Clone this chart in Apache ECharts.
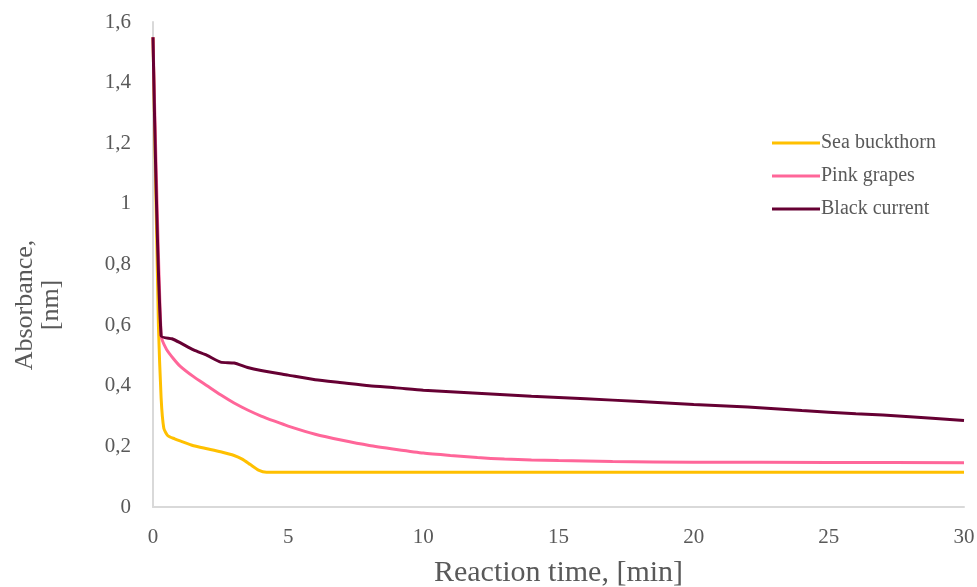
<!DOCTYPE html>
<html>
<head>
<meta charset="utf-8">
<script src="https://cdn.jsdelivr.net/npm/echarts@6/dist/echarts.min.js"></script>
<style>
  html, body { margin: 0; padding: 0; background: #fff; }
  #chart { width: 977px; height: 587px; }
</style>
</head>
<body>
<div id="chart"></div>
<script>
// values: [time min, absorbance]
const seaBuckthorn = [
    [0, 1.55], [0.2, 0.6], [0.3, 0.36], [0.4, 0.26], [0.55, 0.235], [0.8, 0.225],
    [1, 0.218], [1.5, 0.202], [2, 0.192], [2.5, 0.182], [3, 0.17], [3.3, 0.158],
    [3.6, 0.14], [3.9, 0.122], [4.2, 0.115], [5, 0.115], [10, 0.115], [15, 0.115],
    [20, 0.115], [25, 0.115], [30, 0.115]
];
const pinkGrapes = [
    [0, 1.55], [0.3, 0.565], [0.5, 0.52], [0.75, 0.49], [1, 0.465], [1.5, 0.43],
    [2, 0.4], [2.5, 0.37], [3, 0.343], [3.5, 0.32], [4, 0.3], [4.5, 0.283],
    [5, 0.267], [6, 0.24], [7, 0.22], [8, 0.203], [9, 0.19], [10, 0.178],
    [11, 0.17], [12, 0.163], [13, 0.158], [14, 0.155], [15, 0.153], [17, 0.15],
    [20, 0.148], [25, 0.147], [30, 0.146]
];
const blackCurrent = [
    [0, 1.55], [0.3, 0.565], [0.7, 0.555], [1, 0.542], [1.5, 0.518], [2, 0.5],
    [2.5, 0.478], [3, 0.475], [3.5, 0.46], [4, 0.45], [5, 0.435], [6, 0.42],
    [7, 0.41], [8, 0.4], [9, 0.393], [10, 0.385], [12, 0.375], [14, 0.365],
    [16, 0.357], [18, 0.348], [20, 0.338], [22, 0.33], [24, 0.318], [26, 0.308],
    [28, 0.298], [30, 0.285]
];
const seriesNames = ['Sea buckthorn', 'Pink grapes', 'Black current'];
const colors = ['#FFC000', '#FF6699', '#660033'];

const font = '"Liberation Serif", "Times New Roman", serif';
let instance = echarts.init(document.getElementById('chart'));
instance.setOption({
    animation: false,
    color: colors,
    textStyle: { fontFamily: font },
    grid: { left: 153, right: 13, top: 22, bottom: 80, outerBoundsMode: 'none' },
    legend: {
        orient: 'vertical',
        left: 767,
        top: 128,
        icon: 'rect',
        itemWidth: 48,
        itemHeight: 3,
        itemGap: 13,
        textStyle: { fontFamily: font, fontSize: 20, color: '#595959', padding: [0, 0, 0, -4] },
        data: seriesNames
    },
    xAxis: {
        type: 'value',
        min: 0, max: 30, interval: 5,
        axisLine: { show: true, lineStyle: { color: '#d9d9d9', width: 2 } },
        axisTick: { show: false },
        splitLine: { show: false },
        axisLabel: { color: '#595959', fontSize: 21, margin: 20, fontFamily: font },
        name: 'Reaction time, [min]',
        nameLocation: 'middle',
        nameGap: 51,
        nameTextStyle: { color: '#595959', fontSize: 30, fontFamily: font }
    },
    yAxis: {
        type: 'value',
        min: 0, max: 1.6, interval: 0.2,
        axisLine: { show: true, lineStyle: { color: '#d9d9d9', width: 2 } },
        axisTick: { show: false },
        splitLine: { show: false },
        axisLabel: {
            color: '#595959', fontSize: 21, margin: 22, fontFamily: font,
            formatter: v => String(+v.toFixed(1)).replace('.', ',')
        }
    },
    graphic: [{
        type: 'text',
        x: 38, y: 305,
        rotation: Math.PI / 2,
        style: {
            text: 'Absorbance,\n[nm]',
            fill: '#595959',
            font: '26px ' + font,
            align: 'center',
            verticalAlign: 'middle',
            lineHeight: 26
        }
    }],
    series: [
        { name: seriesNames[0], type: 'line', data: seaBuckthorn, symbol: 'none', smooth: 0.2, lineStyle: { width: 3 } },
        { name: seriesNames[1], type: 'line', data: pinkGrapes, symbol: 'none', smooth: 0.2, lineStyle: { width: 3 } },
        { name: seriesNames[2], type: 'line', data: blackCurrent, symbol: 'none', smooth: 0.2, lineStyle: { width: 3 } }
    ]
});
</script>
</body>
</html>
